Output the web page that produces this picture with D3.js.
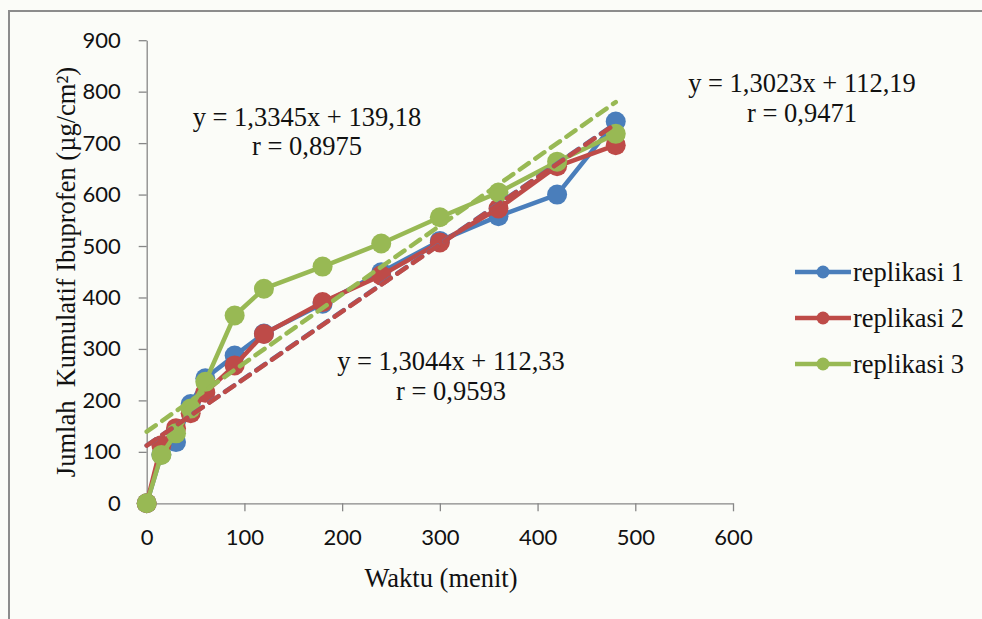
<!DOCTYPE html>
<html>
<head>
<meta charset="utf-8">
<script src="https://cdn.jsdelivr.net/npm/d3@7"></script>
<style>
  html, body { margin: 0; padding: 0; background: #fbfcf8; }
  svg { display: block; font-family: "Liberation Serif", "Times New Roman", serif; }
</style>
</head>
<body>
<div id="chart"></div>
<script>
const width = 982;
const height = 619;

// waktu sampling (menit)
const times = [0, 15, 30, 45, 60, 90, 120, 180, 240, 300, 360, 420, 480];
// jumlah kumulatif ibuprofen per replikasi
const rep1 = [0, 95, 119, 193, 243, 287, 330, 388, 449, 510, 558, 600, 742];
const rep2 = [0, 113, 146, 175, 215, 268, 329, 391, 443, 507, 573, 655, 696];
const rep3 = [0, 94, 136, 184, 236, 365, 417, 460, 505, 556, 604, 664, 718];

const seriesNames = ["replikasi 1", "replikasi 2", "replikasi 3"];
const colors = ["#4a7ebb", "#be4b48", "#98b954"];
// regresi linear: [slope, intercept]
const trends = [[1.3044, 112.33], [1.3023, 112.19], [1.3345, 139.18]];
const xTicks = [0, 100, 200, 300, 400, 500, 600];
const yTicks = [0, 100, 200, 300, 400, 500, 600, 700, 800, 900];

const serifSize = 26.5;
const tickFont = "Lato, 'Open Sans', sans-serif";

const svg = d3.select("#chart").append("svg")
  .attr("width", width)
  .attr("height", height);

svg.append("rect")
  .attr("width", width).attr("height", height)
  .attr("fill", "#fbfcf8");

// outer frame
svg.append("rect")
  .attr("x", 9).attr("y", 11)
  .attr("width", 1000).attr("height", 700)
  .attr("fill", "none")
  .attr("stroke", "#8c8c8c")
  .attr("stroke-width", 2);

const x = d3.scaleLinear().domain([0, 600]).range([146.7, 733]);
const y = d3.scaleLinear().domain([0, 900]).range([503.3, 40.2]);

const axisColor = "#878787";

// x axis
const gx = svg.append("g")
  .attr("transform", `translate(0,${y(0)})`)
  .call(d3.axisBottom(x).tickValues(xTicks).tickSize(8).tickPadding(18).tickSizeOuter(0));
gx.select(".domain").attr("stroke", axisColor).attr("stroke-width", 1.3);
gx.selectAll(".tick line").attr("stroke", axisColor).attr("stroke-width", 1.3);
gx.selectAll(".tick text")
  .attr("font-family", tickFont)
  .attr("font-size", 22)
  .attr("fill", "#111");

// y axis
const gy = svg.append("g")
  .attr("transform", `translate(${x(0)},0)`)
  .call(d3.axisLeft(y).tickValues(yTicks).tickSize(8).tickPadding(18).tickSizeOuter(0));
gy.select(".domain").attr("stroke", axisColor).attr("stroke-width", 1.3);
gy.selectAll(".tick line").attr("stroke", axisColor).attr("stroke-width", 1.3);
gy.selectAll(".tick text")
  .attr("font-family", tickFont)
  .attr("font-size", 22)
  .attr("fill", "#111");

// axis titles
svg.append("text")
  .attr("x", 441).attr("y", 587)
  .attr("text-anchor", "middle")
  .attr("font-size", serifSize)
  .attr("fill", "#111")
  .text("Waktu (menit)");

svg.append("text")
  .attr("transform", "translate(75,272) rotate(-90)")
  .attr("text-anchor", "middle")
  .attr("font-size", serifSize)
  .attr("fill", "#111")
  .attr("xml:space", "preserve")
  .text("Jumlah\u00A0 Kumulatif Ibuprofen (µg/cm²)");

const allSeries = [rep1, rep2, rep3];
const line = d3.line().x(d => x(d[0])).y(d => y(d[1]));

// data lines + markers
allSeries.forEach((vals, i) => {
  const pts = times.map((t, j) => [t, vals[j]]);
  const g = svg.append("g");
  g.append("path")
    .datum(pts)
    .attr("d", line)
    .attr("fill", "none")
    .attr("stroke", colors[i])
    .attr("stroke-width", 4.5)
    .attr("stroke-linejoin", "round");
  g.selectAll("circle")
    .data(pts)
    .join("circle")
    .attr("cx", d => x(d[0]))
    .attr("cy", d => y(d[1]))
    .attr("r", 10)
    .attr("fill", colors[i]);
});

// trend lines (dashed)
trends.forEach((tr, i) => {
  const pts = [0, 480].map(t => [t, tr[0] * t + tr[1]]);
  svg.append("path")
    .datum(pts)
    .attr("d", line)
    .attr("fill", "none")
    .attr("stroke", colors[i])
    .attr("stroke-width", 4.5)
    .attr("stroke-dasharray", "11,8")
    .attr("stroke-linecap", "round");
});

// equation labels
const eqLabels = [
  { lines: ["y = 1,3044x + 112,33", "r = 0,9593"], cx: 451, ys: [370, 400] },
  { lines: ["y = 1,3023x + 112,19", "r = 0,9471"], cx: 802, ys: [92, 122] },
  { lines: ["y = 1,3345x + 139,18", "r = 0,8975"], cx: 307, ys: [126, 155] }
];
eqLabels.forEach(l => {
  l.lines.forEach((s, k) => {
    svg.append("text")
      .attr("x", l.cx).attr("y", l.ys[k])
      .attr("text-anchor", "middle")
      .attr("font-size", serifSize)
      .attr("fill", "#111")
      .text(s);
  });
});

// legend
const legend = svg.append("g");
seriesNames.forEach((name, i) => {
  const ly = 272 + i * 46;
  legend.append("line")
    .attr("x1", 795).attr("x2", 851)
    .attr("y1", ly).attr("y2", ly)
    .attr("stroke", colors[i]).attr("stroke-width", 4.5);
  legend.append("circle")
    .attr("cx", 823).attr("cy", ly).attr("r", 6.5)
    .attr("fill", colors[i]);
  legend.append("text")
    .attr("x", 853).attr("y", ly + 9)
    .attr("font-size", serifSize)
    .attr("fill", "#111")
    .text(name);
});
</script>
</body>
</html>
